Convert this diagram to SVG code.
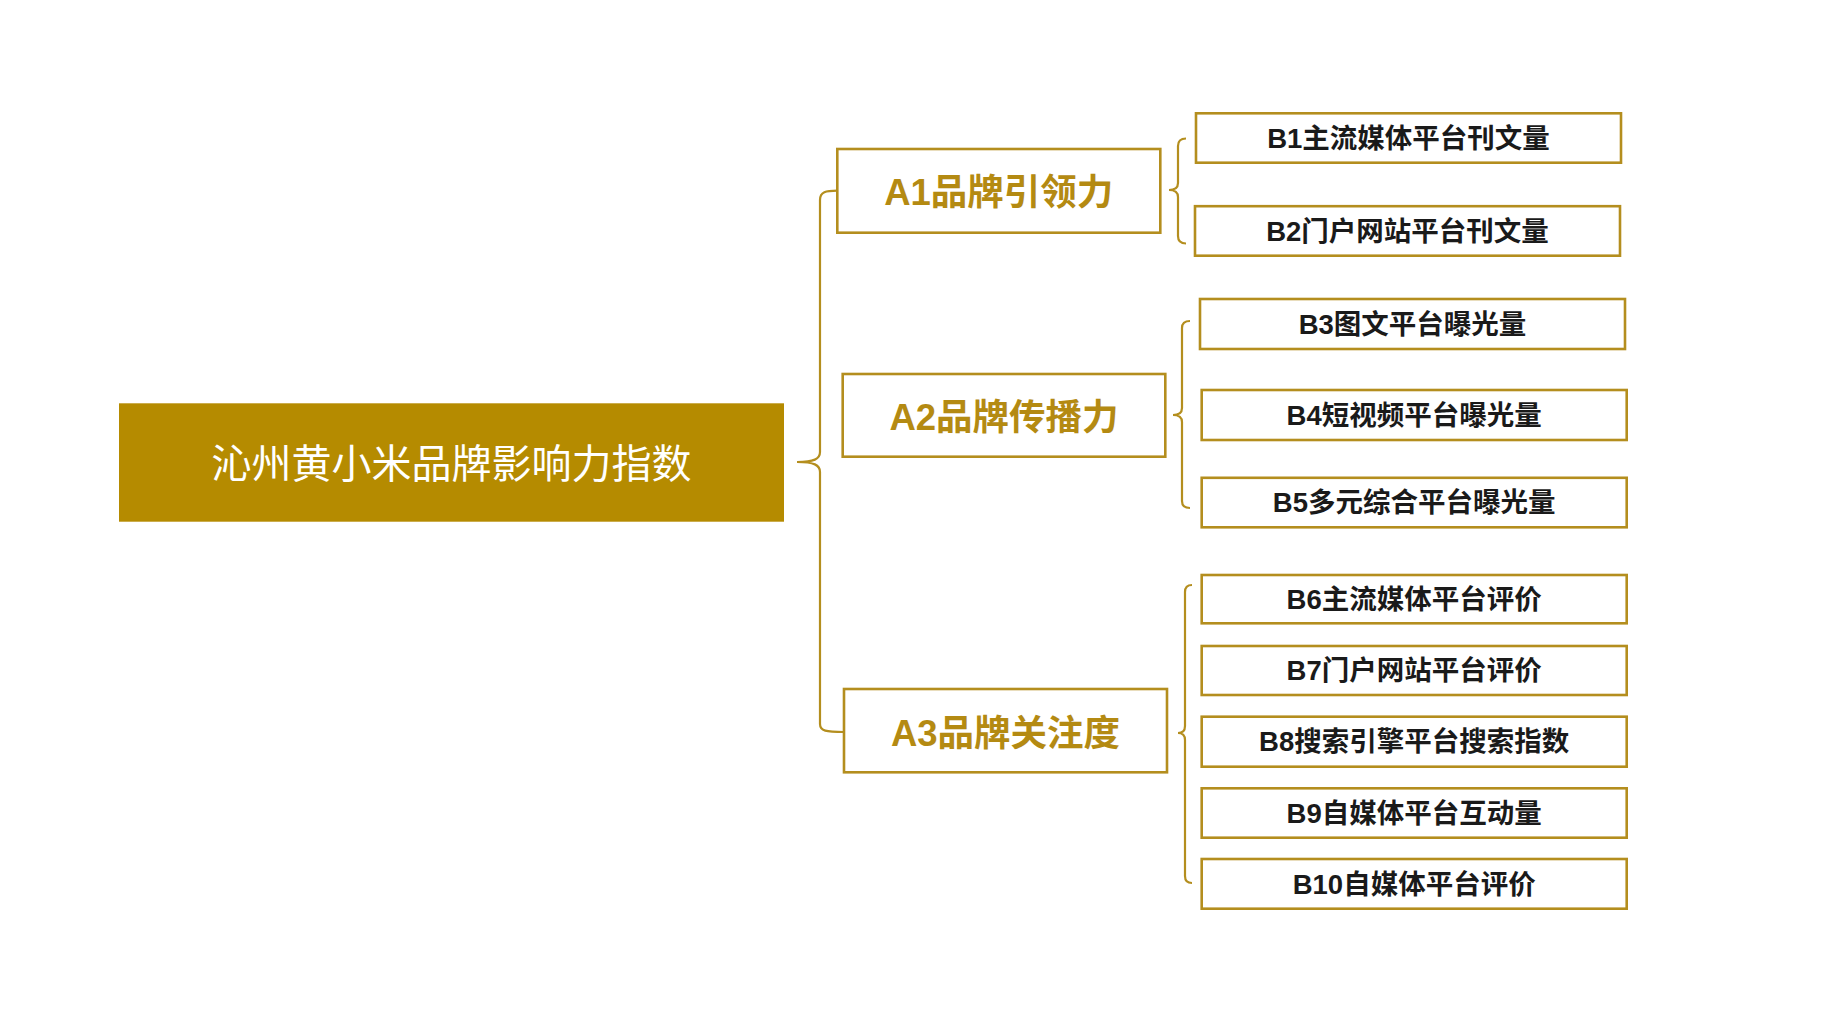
<svg xmlns="http://www.w3.org/2000/svg" width="1821" height="1022" viewBox="0 0 1821 1022">
<style>
.bg{fill:#FFFFFF}
.root{fill:#B58B00}
.box{fill:#FFFFFF;stroke:#B48E1E;stroke-width:2.6}
.con{fill:none;stroke:#B48E1E;stroke-width:2.2}
.t-root{font-family:"Liberation Sans","Noto Sans CJK SC",sans-serif;font-size:40px;fill:#FFFFFF;text-anchor:middle}
.t-a{font-family:"Liberation Sans","Noto Sans CJK SC",sans-serif;font-size:36.5px;font-weight:bold;fill:#B48A12;text-anchor:middle}
.t-b{font-family:"Liberation Sans","Noto Sans CJK SC",sans-serif;font-size:27.5px;font-weight:bold;fill:#1A1A1A;text-anchor:middle}
</style>
<rect class="bg" x="0" y="0" width="1821" height="1022"/>
<g id="connectors">
<path class="con" d="M837,190.7 C826,190.7 820,192 820,200 L820,452 C820,459 814,462 797,462 C814,462 820,465 820,472 L820,724 C820,731 826,732 844,732"/>
<path class="con" d="M1186,138.5 Q1178,138.5 1178,146 L1178,183 Q1178,190 1169,190 Q1178,190 1178,197 L1178,236 Q1178,243.5 1186,243.5"/>
<path class="con" d="M1190,321 Q1182,321 1182,328 L1182,408 Q1182,415 1173,415 Q1182,415 1182,422 L1182,501 Q1182,508 1190,508"/>
<path class="con" d="M1192,585 Q1185,585 1185,592 L1185,726 Q1185,733 1178,733 Q1185,733 1185,740 L1185,876 Q1185,883 1192,883"/>
</g>
<g id="root">
<rect class="root" x="119" y="403.3" width="665" height="118.4"/>
<text class="t-root" x="451.5" y="478">沁州黄小米品牌影响力指数</text>
</g>
<g id="A1">
<rect class="box" x="837.3" y="149" width="323" height="83.7"/>
<text class="t-a" x="998.8" y="205">A1品牌引领力</text>
</g>
<g id="A2">
<rect class="box" x="842.7" y="374" width="322.6" height="82.7"/>
<text class="t-a" x="1004" y="430">A2品牌传播力</text>
</g>
<g id="A3">
<rect class="box" x="844" y="689" width="323" height="83.3"/>
<text class="t-a" x="1005.5" y="745.5">A3品牌关注度</text>
</g>
<g id="B1">
<rect class="box" x="1196" y="113.3" width="425" height="49.4"/>
<text class="t-b" x="1408.5" y="147.7">B1主流媒体平台刊文量</text>
</g>
<g id="B2">
<rect class="box" x="1195" y="206.2" width="425" height="49.5"/>
<text class="t-b" x="1407.5" y="240.7">B2门户网站平台刊文量</text>
</g>
<g id="B3">
<rect class="box" x="1200" y="299" width="425" height="50"/>
<text class="t-b" x="1412.5" y="333.7">B3图文平台曝光量</text>
</g>
<g id="B4">
<rect class="box" x="1201.7" y="390" width="425" height="50"/>
<text class="t-b" x="1414.2" y="424.7">B4短视频平台曝光量</text>
</g>
<g id="B5">
<rect class="box" x="1201.7" y="477.8" width="425" height="49.5"/>
<text class="t-b" x="1414.2" y="512.3">B5多元综合平台曝光量</text>
</g>
<g id="B6">
<rect class="box" x="1201.7" y="575" width="425" height="48.3"/>
<text class="t-b" x="1414.2" y="608.8">B6主流媒体平台评价</text>
</g>
<g id="B7">
<rect class="box" x="1201.7" y="646" width="425" height="49"/>
<text class="t-b" x="1414.2" y="680.2">B7门户网站平台评价</text>
</g>
<g id="B8">
<rect class="box" x="1201.7" y="716.7" width="425" height="50"/>
<text class="t-b" x="1414.2" y="751.4">B8搜索引擎平台搜索指数</text>
</g>
<g id="B9">
<rect class="box" x="1201.7" y="788.3" width="425" height="49.4"/>
<text class="t-b" x="1414.2" y="822.7">B9自媒体平台互动量</text>
</g>
<g id="B10">
<rect class="box" x="1201.7" y="859" width="425" height="49.7"/>
<text class="t-b" x="1414.2" y="893.5">B10自媒体平台评价</text>
</g>
</svg>
